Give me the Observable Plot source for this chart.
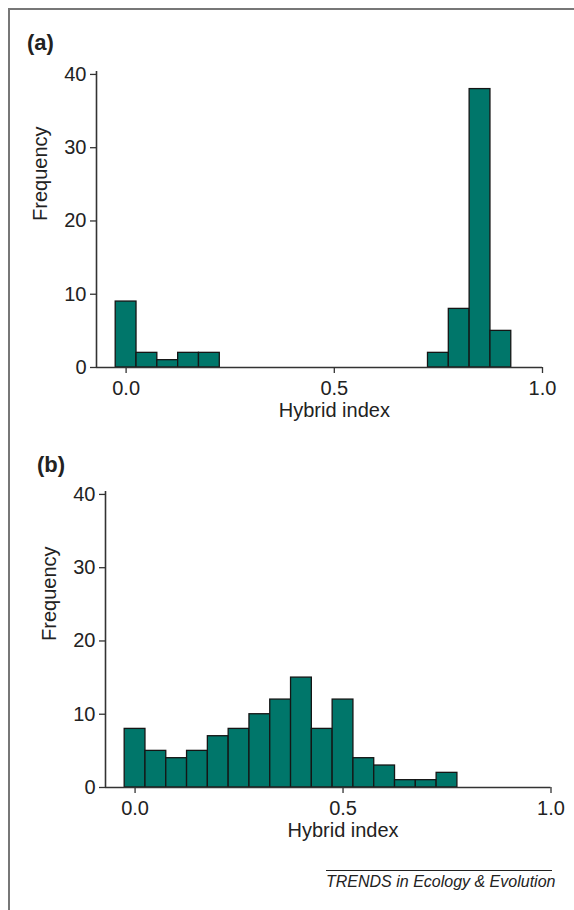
<!DOCTYPE html>
<html>
<head>
<meta charset="utf-8">
<script src="https://cdn.jsdelivr.net/npm/d3@7"></script>
<script src="https://cdn.jsdelivr.net/npm/@observablehq/plot@0.6"></script>
<style>
  html, body { margin: 0; padding: 0; background: #fff; }
  #wrap { position: relative; width: 574px; height: 910px; overflow: hidden; font-family: "Liberation Sans", Arial, sans-serif; color: #222; }
  #border { position: absolute; left: 8px; top: 8px; width: 566px; height: 902px; border-top: 2px solid #777; border-left: 2px solid #777; box-sizing: border-box; }
  .panel { position: absolute; left: 0; }
  .tag { position: absolute; font-weight: bold; font-size: 22px; line-height: 22px; }
  #caption { position: absolute; left: 326px; width: 226px; top: 870px; border-top: 1px solid #222; font-style: italic; font-size: 16px; line-height: 17px; text-align: right; padding-top: 2px; white-space: nowrap; }
</style>
</head>
<body>
<div id="wrap">
  <div id="border"></div>
  <div class="tag" style="left:27px; top:32px;">(a)</div>
  <div class="tag" style="left:37px; top:454px;">(b)</div>
  <div id="panelA" class="panel" style="top:0px;"></div>
  <div id="panelB" class="panel" style="top:420px;"></div>
  <div id="caption">TRENDS in Ecology &amp; Evolution</div>
</div>
<script>
// Panel (a): bin centres of hybrid index and frequencies
const binCentersA = [0.00, 0.05, 0.10, 0.15, 0.20, 0.75, 0.80, 0.85, 0.90];
const countsA     = [9, 2, 1, 2, 2, 2, 8, 38, 5];

// Panel (b): bin centres of hybrid index and frequencies
const binCentersB = [0.00, 0.05, 0.10, 0.15, 0.20, 0.25, 0.30, 0.35, 0.40, 0.45, 0.50, 0.55, 0.60, 0.65, 0.70, 0.75];
const countsB     = [8, 5, 4, 5, 7, 8, 10, 12, 15, 8, 12, 4, 3, 1, 1, 2];

const binWidth = 0.05;
const xTicks = [0, 0.5, 1];
const yTicks = [0, 10, 20, 30, 40];
const xLabel = "Hybrid index";
const yLabel = "Frequency";

const xMin = -0.0711;   // left end of the x axis (where the y axis sits)
const yMax = 40.4;

function panel(centers, counts, marginLeft, marginRight) {
  const data = centers.map((c, i) => ({x1: c - binWidth / 2, x2: c + binWidth / 2, count: counts[i]}));
  return Plot.plot({
    width: 574,
    height: 430,
    marginLeft,
    marginRight,
    marginTop: 71,
    marginBottom: 63,
    x: {domain: [xMin, 1]},
    y: {domain: [0, yMax]},
    style: {fontFamily: "'Liberation Sans', Arial, sans-serif", fontSize: "20px", color: "#222", background: "transparent", overflow: "visible"},
    marks: [
      Plot.rectY(data, {x1: "x1", x2: "x2", y: "count", fill: "#00766a", stroke: "#151515", strokeWidth: 1.3}),
      Plot.ruleY([0], {stroke: "#333", strokeWidth: 1.6}),
      Plot.ruleX([xMin], {y1: 0, y2: yMax, stroke: "#333", strokeWidth: 1.6}),
      Plot.axisX({ticks: xTicks, tickFormat: d3.format(".1f"), tickSize: 6, tickPadding: 7, label: null, stroke: "#333", strokeWidth: 1.3}),
      Plot.axisY({ticks: yTicks, tickFormat: d3.format("d"), tickSize: 6, tickPadding: 4, label: null, stroke: "#333", strokeWidth: 1.3}),
      Plot.text([xLabel], {x: 0.5, frameAnchor: "bottom", dy: 49, text: d => d, fontSize: 20, fill: "#222"}),
      Plot.text([yLabel], {y: 20, frameAnchor: "left", dx: -56, rotate: -90, text: d => d, fontSize: 20, fill: "#222"})
    ]
  });
}

document.getElementById("panelA").appendChild(panel(binCentersA, countsA, 96, 32));
document.getElementById("panelB").appendChild(panel(binCentersB, countsB, 105, 23.5));
</script>
</body>
</html>
